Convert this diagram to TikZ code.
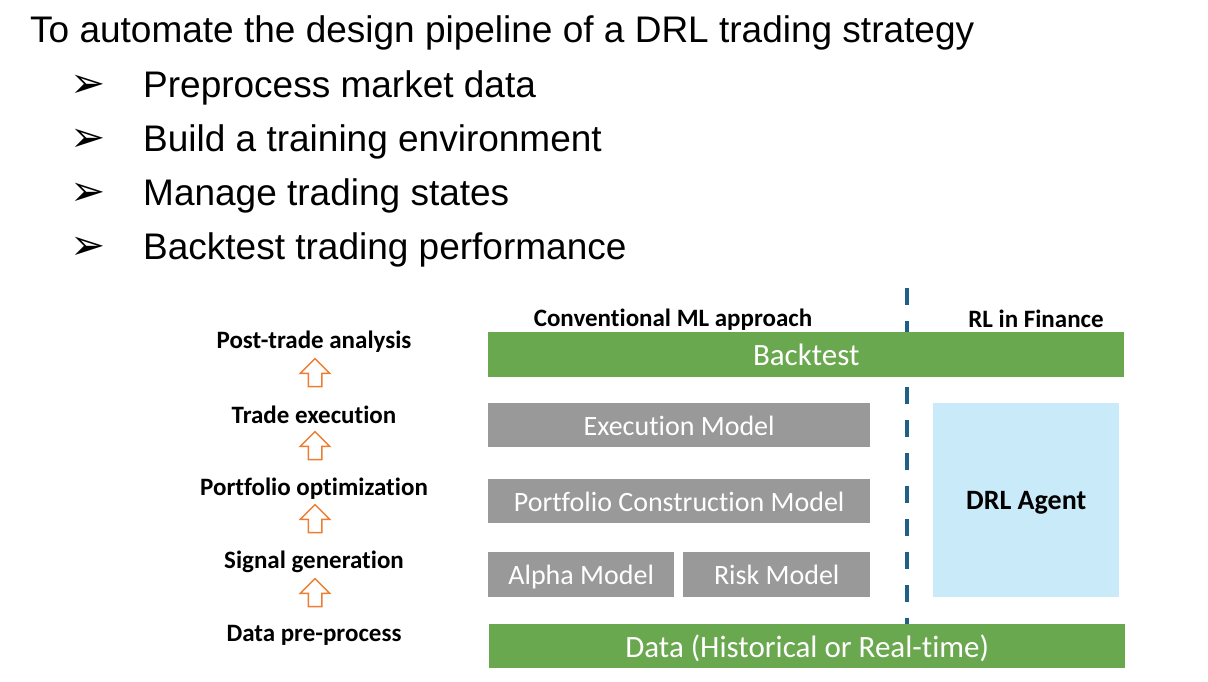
\documentclass[tikz,border=0pt]{standalone}
\usepackage{fontspec}
\setmainfont{Liberation Sans}
\newfontfamily\calibri[Ligatures=NoCommon]{Carlito}
\newfontfamily\dingfont{DejaVu Sans}
\usepackage{xcolor}
\usetikzlibrary{calc}
\usetikzlibrary{shapes,arrows}
\definecolor{barGreen}{HTML}{6AA84F}
\definecolor{modelGray}{HTML}{999999}
\definecolor{agentBlue}{HTML}{C9EAF8}
\definecolor{lineBlue}{HTML}{1F6088}
\definecolor{arrowOrange}{HTML}{ED7D31}

\begin{document}
\begin{tikzpicture}[x=1pt,y=-1pt,
  bigtext/.style={anchor=base west,inner sep=0pt,font=\fontsize{37}{42}\selectfont},
  bullet/.style={anchor=base west,inner sep=0pt,font=\dingfont\fontsize{42}{46}\selectfont},
  stagelabel/.style={font=\calibri\bfseries\fontsize{25}{30}\selectfont},
  header/.style={font=\calibri\bfseries\fontsize{25}{30}\selectfont},
  bar/.style={fill=barGreen,rectangle,anchor=north west,inner sep=0pt,text=white,text height=22pt,text depth=0pt,font=\calibri\fontsize{31}{36}\selectfont},
  model/.style={fill=modelGray,rectangle,anchor=north west,inner sep=0pt,text=white,text height=20pt,text depth=0pt,font=\calibri\fontsize{28}{32}\selectfont},
  uparrow/.style={single arrow,draw=arrowOrange,fill=white,line width=1.5pt,shape border rotate=90,
    minimum height=28pt,single arrow head extend=8pt,inner sep=6pt,single arrow tip angle=90}]
\useasboundingbox (0,0) rectangle (1208,681);

% bullet list
\node[bigtext] (title) at (30,42) {To automate the design pipeline of a DRL trading strategy};
 \node[bullet] (b1) at (70,97) {➢};
 \node[bigtext] (prep) at (143,97) {Preprocess market data};
 \node[bullet] (b2) at (70,151) {➢};
 \node[bigtext] (build) at (143,151) {Build a training environment};
 \node[bullet] (b3) at (70,205) {➢};
 \node[bigtext] (manage) at (143,205) {Manage trading states};
 \node[bullet] (b4) at (70,259) {➢};
 \node[bigtext] (backt) at (143,259) {Backtest trading performance};

% stages on the left
\node[stagelabel] (post) at (314,342) {Post-trade analysis};
  \node[stagelabel] (exec) at (314,415) {Trade execution};
    \node[stagelabel] (port) at (314,489) {Portfolio optimization};
      \node[stagelabel] (signal) at (314,562) {Signal generation};
        \node[stagelabel] (datap) at (314,635) {Data pre-process};
 \node[uparrow] (a1) at (315,376) {};
 \node[uparrow] (a2) at (315,449) {};
 \node[uparrow] (a3) at (315,522) {};
 \node[uparrow] (a4) at (315,596) {};

% split line
\coordinate (splittop) at (907,288);
\coordinate (splitbot) at (907,626);
\draw[lineBlue,line width=4pt,dash pattern=on 17pt off 16pt] (splittop) -- (splitbot);

\node[header] (conv) at (673,320) {Conventional ML approach};
\node[header] (rlfin) at (1036,319) {RL in Finance};

% boxes
\node[bar,minimum width=636pt,minimum height=45pt] (backtest) at (488,332) {Backtest};
  \node[model,minimum width=382pt,minimum height=44pt] (execm) at (488,403) {Execution Model};
  \node[model,minimum width=382pt,minimum height=44pt] (portm) at (488,479) {Portfolio Construction Model};
  \node[model,minimum width=186pt,minimum height=45pt] (alpha) at (488,552) {Alpha Model};
  \node[model,minimum width=187pt,minimum height=45pt] (risk) at (683,552) {Risk Model};
\node[fill=agentBlue,rectangle,anchor=north west,minimum width=186pt,minimum height=194pt,text depth=0pt,font=\calibri\bfseries\fontsize{28}{32}\selectfont] (agent) at (933,403) {DRL Agent};
\node[bar,minimum width=636pt,minimum height=44pt] (data) at (489,624) {Data (Historical or Real-time)};

\end{tikzpicture}
\end{document}
